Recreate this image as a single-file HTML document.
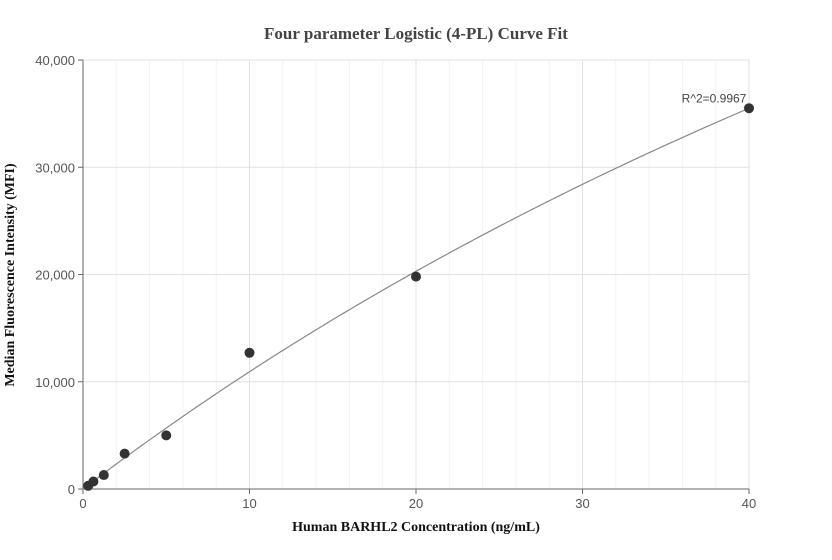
<!DOCTYPE html>
<html><head><meta charset="utf-8"><style>
body{margin:0;background:#fff;}
svg{display:block;font-family:"Liberation Sans",sans-serif;}
</style></head><body>
<svg id="chart" width="832" height="560">
<text x="416" y="39" text-anchor="middle" font-family="Liberation Serif" font-weight="bold" font-size="17" fill="#444">Four parameter Logistic (4-PL) Curve Fit</text>
<text x="416" y="531" text-anchor="middle" font-family="Liberation Serif" font-weight="bold" font-size="14" fill="#111">Human BARHL2 Concentration (ng/mL)</text>
<text transform="translate(14,275) rotate(-90)" text-anchor="middle" font-family="Liberation Serif" font-weight="bold" font-size="14" fill="#111">Median Fluorescence Intensity (MFI)</text>
<g id="grid"></g><g id="axes"></g><g id="curve"></g><g id="pts"></g>
</svg>
<script>
const xConc = [0.3125, 0.625, 1.25, 2.5, 5, 10, 20, 40];
const yMFI = [300, 700, 1300, 3300, 5000, 12700, 19800, 35500];
const xTicks = [0, 10, 20, 30, 40];
const yTicks = [0, 10000, 20000, 30000, 40000];
const fitParams = [0, 1, 119.4, 141467]; // a, b, c, d
const r2Label = "R^2=0.9967";

const ns = "http://www.w3.org/2000/svg";
const X0 = 83, X1 = 749, Y0 = 489, Y1 = 60;
const sx = v => X0 + (v - 0) / 40 * (X1 - X0);
const sy = v => Y0 - v / 40000 * (Y0 - Y1);
function mk(tag, attrs, parent, text) {
  const e = document.createElementNS(ns, tag);
  for (const k in attrs) e.setAttribute(k, attrs[k]);
  if (text !== undefined) e.textContent = text;
  document.getElementById(parent).appendChild(e);
  return e;
}
for (let v = 2; v < 40; v += 2) {
  if (v % 10 === 0) continue;
  const l = mk('line', {x1: sx(v), x2: sx(v), y1: Y1, y2: Y0, stroke: '#f3f3f3', 'stroke-width': 1}, 'grid');
  
  
}
xTicks.forEach(t => {
  if (t > 0) {
    const l = mk('line', {x1: sx(t), x2: sx(t), y1: Y1, y2: Y0, stroke: '#e2e2e2', 'stroke-width': 1}, 'grid');
    
    
  }
  const tk = mk('line', {x1: sx(t), x2: sx(t), y1: Y0, y2: Y0 + 5, stroke: '#666'}, 'axes');
  
  
  const tx = mk('text', {x: sx(t), y: Y0 + 19, 'text-anchor': 'middle', 'font-size': 13, fill: '#555'}, 'axes', String(t));
  
  
});
yTicks.forEach(t => {
  if (t > 0) {
    const l = mk('line', {x1: X0, x2: X1, y1: sy(t), y2: sy(t), stroke: '#e2e2e2', 'stroke-width': 1}, 'grid');
    
    
  }
  const tk = mk('line', {x1: X0 - 5, x2: X0, y1: sy(t), y2: sy(t), stroke: '#666'}, 'axes');
  
  
  const tx = mk('text', {x: X0 - 8, y: sy(t) + 5, 'text-anchor': 'end', 'font-size': 13, fill: '#555'}, 'axes', t.toLocaleString('en-US'));
  
  
});
const ya = mk('line', {x1: X0, x2: X0, y1: Y1, y2: Y0, stroke: '#666'}, 'axes');


const xa = mk('line', {x1: X0, x2: X1, y1: Y0, y2: Y0, stroke: '#666'}, 'axes');



const [a, b, c, d] = fitParams;
const fit = x => d + (a - d) / (1 + Math.pow(x / c, b));
let dStr = '';
for (let i = 0; i <= 200; i++) {
  const x = 40 * i / 200;
  dStr += (i ? 'L' : 'M') + sx(x).toFixed(2) + ',' + sy(fit(x)).toFixed(2);
}
const cv = mk('path', {d: dStr, fill: 'none', stroke: '#888', 'stroke-width': 1.2}, 'curve');



xConc.forEach((x, i) => {
  const p = mk('circle', {cx: sx(x), cy: sy(yMFI[i]), r: 5, fill: '#333'}, 'pts');
  
  
});
const r = mk('text', {x: sx(40) - 35, y: sy(yMFI[yMFI.length - 1]) - 6, 'text-anchor': 'middle', 'font-size': 12, fill: '#444'}, 'pts', r2Label);


</script>
</body></html>
